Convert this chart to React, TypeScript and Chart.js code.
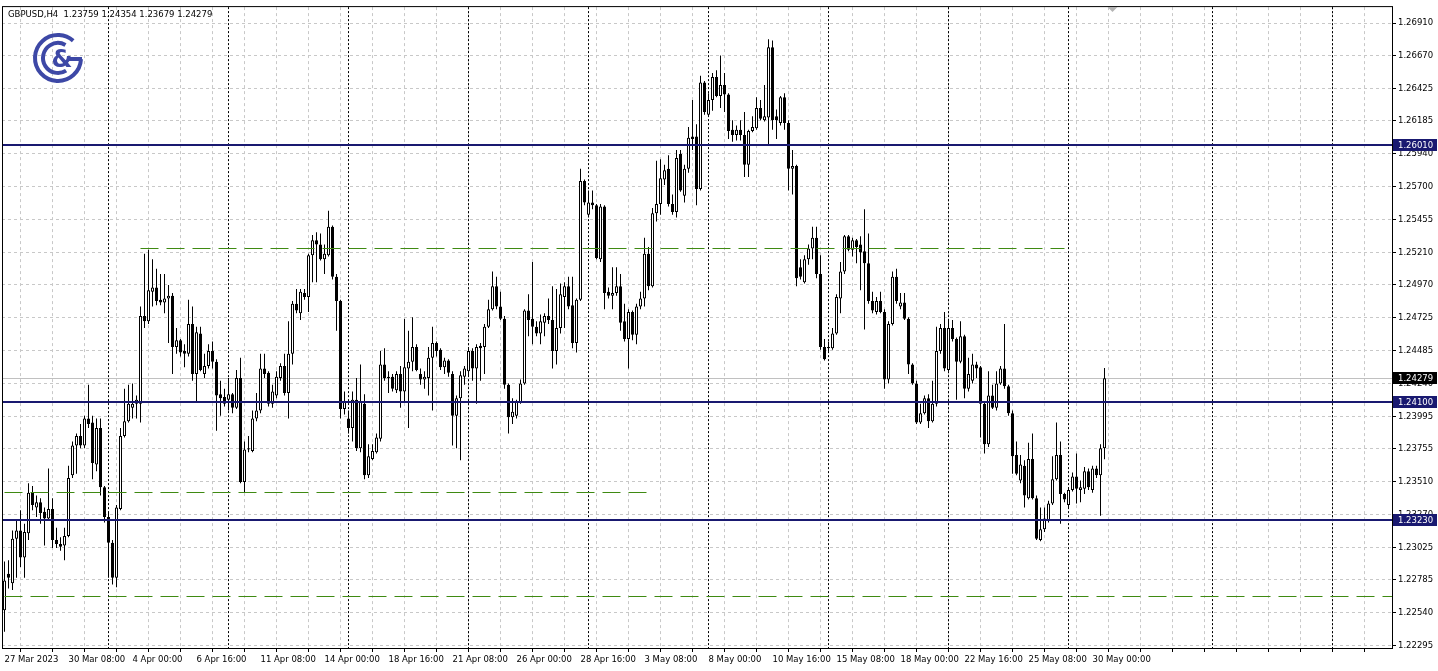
import React, { useEffect, useRef } from 'react';
import { Chart, registerables } from 'chart.js';

Chart.register(...registerables);

const SYMBOL = 'GBPUSD,H4';
const FIRST_BAR = 4;

const OPEN = [
  1.2256, 1.2283, 1.2276, 1.2309, 1.2315, 1.2295, 1.2313, 1.2343, 1.2332, 1.2336,
  1.2329, 1.2324, 1.2331, 1.2308, 1.2305, 1.2304, 1.2311, 1.2356, 1.2378, 1.2385,
  1.2378, 1.2398, 1.2395, 1.2364, 1.2391, 1.2347, 1.2325, 1.2306, 1.2280, 1.2331,
  1.2385, 1.2396, 1.2406, 1.2409, 1.2409, 1.2474, 1.2470, 1.2492, 1.2495, 1.2486,
  1.2484, 1.2487, 1.2489, 1.2451, 1.2456, 1.2448, 1.2446, 1.2468, 1.2431, 1.2461,
  1.2431, 1.2437, 1.2448, 1.2440, 1.2416, 1.2414, 1.2412, 1.2416, 1.2406, 1.2428,
  1.2351, 1.2375, 1.2374, 1.2398, 1.2404, 1.2435, 1.2432, 1.2409, 1.2415, 1.2428,
  1.2437, 1.2417, 1.2446, 1.2483, 1.2476, 1.2491, 1.2488, 1.2519, 1.2530, 1.2527,
  1.2516, 1.2519, 1.2540, 1.2503, 1.2485, 1.2405, 1.2398, 1.2391, 1.2412, 1.2376,
  1.2409, 1.2356, 1.2368, 1.2373, 1.2383, 1.2438, 1.2428, 1.2429, 1.2419, 1.2431,
  1.2418, 1.2435, 1.2440, 1.2451, 1.2431, 1.2427, 1.2428, 1.2443, 1.2454, 1.2449,
  1.2436, 1.2441, 1.2431, 1.2400, 1.2413, 1.2429, 1.2433, 1.2448, 1.2435, 1.2452,
  1.2451, 1.2466, 1.2479, 1.2496, 1.2481, 1.2472, 1.2423, 1.2399, 1.2400, 1.2410,
  1.2424, 1.2478, 1.2472, 1.2466, 1.2461, 1.2469, 1.2474, 1.2471, 1.2448, 1.2465,
  1.2488, 1.2496, 1.2482, 1.2454, 1.2486, 1.2574, 1.2549, 1.2558, 1.2556, 1.2516,
  1.2555, 1.2492, 1.2489, 1.2491, 1.2496, 1.2470, 1.2457, 1.2477, 1.2460, 1.2481,
  1.2487, 1.2520, 1.2496, 1.2550, 1.2557, 1.2575, 1.2583, 1.2557, 1.2551, 1.2594,
  1.2563, 1.2583, 1.2607, 1.2607, 1.2568, 1.2647, 1.2623, 1.2634, 1.2651, 1.2637,
  1.2645, 1.2638, 1.2612, 1.2608, 1.2612, 1.2608, 1.2586, 1.2611, 1.2613, 1.2628,
  1.2619, 1.2621, 1.2673, 1.2622, 1.2617, 1.2636, 1.2617, 1.2583, 1.2585, 1.2510,
  1.2499, 1.2516, 1.2524, 1.2532, 1.2505, 1.2451, 1.2451, 1.2450, 1.2461, 1.2487,
  1.2507, 1.2533, 1.2523, 1.2530, 1.2527, 1.2522, 1.2513, 1.2485, 1.2477, 1.2485,
  1.2477, 1.2427, 1.2468, 1.2503, 1.2481, 1.2484, 1.2472, 1.2438, 1.2424, 1.2395,
  1.2402, 1.2413, 1.2396, 1.2409, 1.2448, 1.2465, 1.2434, 1.2465, 1.2457, 1.2440,
  1.2459, 1.2420, 1.2426, 1.2438, 1.2436, 1.2409, 1.2379, 1.2415, 1.2406, 1.2424,
  1.2435, 1.2422, 1.2402, 1.2371, 1.2352, 1.2363, 1.2339, 1.2368, 1.2339, 1.2308,
  1.2316, 1.2322, 1.2335, 1.2353, 1.2371, 1.2342, 1.2334, 1.2345, 1.2355, 1.2345,
  1.2346, 1.2359, 1.2345, 1.2361, 1.2356, 1.23759,
];

const HIGH = [
  1.2292, 1.2293, 1.2315, 1.2322, 1.2330, 1.2320, 1.2350, 1.2348, 1.2341, 1.2339,
  1.2332, 1.2361, 1.2339, 1.2317, 1.2310, 1.2317, 1.2363, 1.2381, 1.2387, 1.2394,
  1.2400, 1.2423, 1.2400, 1.2398, 1.2398, 1.2348, 1.2328, 1.2308, 1.2334, 1.2391,
  1.2420, 1.2423, 1.2424, 1.2415, 1.2481, 1.2520, 1.2523, 1.2516, 1.2509, 1.2505,
  1.2505, 1.2497, 1.2491, 1.2465, 1.2457, 1.2453, 1.2486, 1.2481, 1.2466, 1.2466,
  1.2446, 1.2453, 1.2455, 1.2442, 1.2426, 1.2420, 1.2428, 1.2417, 1.2434, 1.2443,
  1.2381, 1.2385, 1.2404, 1.2417, 1.2446, 1.2446, 1.2433, 1.2423, 1.2433, 1.2439,
  1.2446, 1.2470, 1.2485, 1.2494, 1.2494, 1.2494, 1.2520, 1.2534, 1.2536, 1.2535,
  1.2527, 1.2552, 1.2541, 1.2505, 1.2486, 1.2418, 1.2404, 1.2418, 1.2428, 1.2438,
  1.2416, 1.2379, 1.2379, 1.2387, 1.2448, 1.2450, 1.2433, 1.2431, 1.2433, 1.2437,
  1.2472, 1.2463, 1.2473, 1.2453, 1.2435, 1.2433, 1.2451, 1.2466, 1.2455, 1.2450,
  1.2443, 1.2442, 1.2433, 1.2415, 1.2433, 1.2437, 1.2451, 1.2450, 1.2453, 1.2454,
  1.2468, 1.2486, 1.2507, 1.2503, 1.2492, 1.2474, 1.2424, 1.2413, 1.2412, 1.2427,
  1.2479, 1.2490, 1.2514, 1.2470, 1.2475, 1.2476, 1.2487, 1.2496, 1.2494, 1.2498,
  1.2499, 1.2503, 1.2503, 1.2487, 1.2583, 1.2575, 1.2567, 1.2567, 1.2557, 1.2557,
  1.2556, 1.2495, 1.2510, 1.2510, 1.2505, 1.2483, 1.2479, 1.2478, 1.2483, 1.2492,
  1.2532, 1.2525, 1.2554, 1.2589, 1.2590, 1.2586, 1.2593, 1.2564, 1.2597, 1.2597,
  1.2586, 1.2614, 1.2634, 1.2616, 1.2652, 1.2648, 1.2639, 1.2654, 1.2656, 1.2667,
  1.2654, 1.2639, 1.2619, 1.2615, 1.2619, 1.2625, 1.2612, 1.2622, 1.2636, 1.2634,
  1.2645, 1.2679, 1.2678, 1.2627, 1.2637, 1.2639, 1.2619, 1.2597, 1.2586, 1.2516,
  1.2519, 1.2527, 1.2540, 1.2540, 1.2519, 1.2457, 1.2455, 1.2465, 1.2490, 1.2514,
  1.2534, 1.2534, 1.2532, 1.2531, 1.2533, 1.2553, 1.2535, 1.2492, 1.2488, 1.2492,
  1.2479, 1.2470, 1.2507, 1.2509, 1.2491, 1.2491, 1.2473, 1.2439, 1.2426, 1.2409,
  1.2415, 1.2416, 1.2426, 1.2466, 1.2468, 1.2477, 1.2472, 1.2471, 1.2458, 1.2470,
  1.2460, 1.2443, 1.2446, 1.2440, 1.2437, 1.2411, 1.2433, 1.2423, 1.2433, 1.2437,
  1.2468, 1.2423, 1.2404, 1.2381, 1.2371, 1.2367, 1.2380, 1.2387, 1.2341, 1.2332,
  1.2332, 1.2337, 1.2370, 1.2395, 1.2381, 1.2343, 1.2347, 1.2358, 1.2372, 1.2352,
  1.2362, 1.2361, 1.2363, 1.2363, 1.2379, 1.24354,
];

const LOW = [
  1.2240, 1.2272, 1.2271, 1.2280, 1.2288, 1.2280, 1.2308, 1.2330, 1.2325, 1.2320,
  1.2304, 1.2322, 1.2302, 1.2302, 1.2300, 1.2293, 1.2310, 1.2354, 1.2357, 1.2376,
  1.2376, 1.2391, 1.2353, 1.2359, 1.2341, 1.2321, 1.2280, 1.2275, 1.2273, 1.2330,
  1.2384, 1.2395, 1.2398, 1.2398, 1.2395, 1.2465, 1.2468, 1.2481, 1.2482, 1.2482,
  1.2476, 1.2454, 1.2431, 1.2446, 1.2444, 1.2436, 1.2444, 1.2426, 1.2411, 1.2433,
  1.2428, 1.2435, 1.2435, 1.2389, 1.2400, 1.2407, 1.2404, 1.2402, 1.2405, 1.2350,
  1.2343, 1.2373, 1.2373, 1.2396, 1.2402, 1.2428, 1.2407, 1.2406, 1.2413, 1.2426,
  1.2415, 1.2398, 1.2438, 1.2476, 1.2471, 1.2486, 1.2477, 1.2499, 1.2499, 1.2515,
  1.2505, 1.2518, 1.2501, 1.2463, 1.2398, 1.2401, 1.2387, 1.2381, 1.2374, 1.2373,
  1.2353, 1.2354, 1.2367, 1.2372, 1.2381, 1.2426, 1.2417, 1.2418, 1.2417, 1.2406,
  1.2411, 1.2391, 1.2433, 1.2433, 1.2423, 1.2420, 1.2415, 1.2404, 1.2444, 1.2434,
  1.2431, 1.2429, 1.2378, 1.2376, 1.2367, 1.2423, 1.2429, 1.2426, 1.2409, 1.2426,
  1.2431, 1.2465, 1.2478, 1.2479, 1.2471, 1.2420, 1.2387, 1.2394, 1.2398, 1.2409,
  1.2423, 1.2459, 1.2453, 1.2459, 1.2453, 1.2459, 1.2468, 1.2435, 1.2438, 1.2461,
  1.2465, 1.2479, 1.2450, 1.2447, 1.2485, 1.2556, 1.2547, 1.2553, 1.2516, 1.2514,
  1.2479, 1.2487, 1.2479, 1.2489, 1.2463, 1.2455, 1.2435, 1.2456, 1.2453, 1.2479,
  1.2481, 1.2493, 1.2495, 1.2544, 1.2549, 1.2571, 1.2555, 1.2549, 1.2547, 1.2566,
  1.2558, 1.2580, 1.2597, 1.2556, 1.2567, 1.2623, 1.2622, 1.2626, 1.2636, 1.2628,
  1.2625, 1.2605, 1.2603, 1.2604, 1.2604, 1.2577, 1.2577, 1.2610, 1.2612, 1.2619,
  1.2618, 1.2600, 1.2612, 1.2605, 1.2615, 1.2612, 1.2567, 1.2564, 1.2496, 1.2501,
  1.2498, 1.2512, 1.2516, 1.2502, 1.2449, 1.2441, 1.2448, 1.2449, 1.2460, 1.2476,
  1.2505, 1.2522, 1.2518, 1.2513, 1.2493, 1.2464, 1.2483, 1.2476, 1.2475, 1.2476,
  1.2420, 1.2424, 1.2467, 1.2483, 1.2479, 1.2471, 1.2431, 1.2423, 1.2394, 1.2394,
  1.2401, 1.2391, 1.2395, 1.2407, 1.2446, 1.2433, 1.2433, 1.2455, 1.2412, 1.2439,
  1.2413, 1.2418, 1.2424, 1.2428, 1.2384, 1.2372, 1.2377, 1.2405, 1.2404, 1.2423,
  1.2420, 1.2400, 1.2357, 1.2356, 1.2350, 1.2332, 1.2338, 1.2338, 1.2308, 1.2307,
  1.2314, 1.2321, 1.2334, 1.2352, 1.2320, 1.2336, 1.2331, 1.2344, 1.2335, 1.2336,
  1.2342, 1.2345, 1.2343, 1.2354, 1.2326, 1.23679,
];

const CLOSE = [
  1.2278, 1.2280, 1.2309, 1.2315, 1.2295, 1.2314, 1.2343, 1.2334, 1.2336, 1.2328,
  1.2324, 1.2331, 1.2308, 1.2305, 1.2303, 1.2311, 1.2354, 1.2378, 1.2385, 1.2378,
  1.2398, 1.2394, 1.2365, 1.2391, 1.2347, 1.2325, 1.2306, 1.2280, 1.2332, 1.2385,
  1.2396, 1.2409, 1.2409, 1.2412, 1.2474, 1.2470, 1.2493, 1.2495, 1.2485, 1.2484,
  1.2487, 1.2489, 1.2451, 1.2456, 1.2447, 1.2446, 1.2468, 1.2431, 1.2462, 1.2434,
  1.2437, 1.2448, 1.2440, 1.2415, 1.2413, 1.2409, 1.2416, 1.2406, 1.2428, 1.2351,
  1.2375, 1.2376, 1.2398, 1.2404, 1.2435, 1.2431, 1.2409, 1.2418, 1.2429, 1.2437,
  1.2417, 1.2446, 1.2483, 1.2478, 1.2492, 1.2488, 1.2519, 1.2530, 1.2527, 1.2516,
  1.2520, 1.2540, 1.2503, 1.2485, 1.2405, 1.2411, 1.2391, 1.2412, 1.2376, 1.2411,
  1.2356, 1.2370, 1.2374, 1.2384, 1.2438, 1.2428, 1.2429, 1.2420, 1.2431, 1.2418,
  1.2436, 1.2440, 1.2451, 1.2434, 1.2427, 1.2429, 1.2443, 1.2454, 1.2448, 1.2436,
  1.2441, 1.2432, 1.2400, 1.2413, 1.2430, 1.2435, 1.2448, 1.2435, 1.2451, 1.2450,
  1.2466, 1.2479, 1.2496, 1.2481, 1.2472, 1.2423, 1.2399, 1.2403, 1.2411, 1.2424,
  1.2478, 1.2471, 1.2466, 1.2461, 1.2470, 1.2474, 1.2471, 1.2448, 1.2465, 1.2490,
  1.2496, 1.2481, 1.2454, 1.2486, 1.2574, 1.2558, 1.2558, 1.2556, 1.2517, 1.2555,
  1.2491, 1.2489, 1.2491, 1.2496, 1.2469, 1.2457, 1.2477, 1.2460, 1.2481, 1.2487,
  1.2520, 1.2496, 1.2550, 1.2557, 1.2576, 1.2582, 1.2557, 1.2551, 1.2591, 1.2567,
  1.2583, 1.2606, 1.2605, 1.2568, 1.2647, 1.2625, 1.2634, 1.2651, 1.2637, 1.2645,
  1.2638, 1.2611, 1.2608, 1.2612, 1.2608, 1.2586, 1.2611, 1.2614, 1.2628, 1.2620,
  1.2622, 1.2673, 1.2619, 1.2619, 1.2636, 1.2617, 1.2583, 1.2585, 1.2502, 1.2503,
  1.2516, 1.2524, 1.2532, 1.2505, 1.2451, 1.2442, 1.2450, 1.2461, 1.2488, 1.2507,
  1.2533, 1.2523, 1.2530, 1.2525, 1.2521, 1.2513, 1.2485, 1.2478, 1.2485, 1.2477,
  1.2427, 1.2468, 1.2503, 1.2485, 1.2484, 1.2472, 1.2438, 1.2424, 1.2395, 1.2402,
  1.2413, 1.2396, 1.2409, 1.2448, 1.2465, 1.2435, 1.2465, 1.2457, 1.2440, 1.2459,
  1.2420, 1.2431, 1.2438, 1.2435, 1.2409, 1.2379, 1.2415, 1.2406, 1.2424, 1.2435,
  1.2422, 1.2402, 1.2370, 1.2357, 1.2364, 1.2341, 1.2368, 1.2339, 1.2309, 1.2316,
  1.2324, 1.2335, 1.2353, 1.2371, 1.2342, 1.2338, 1.2345, 1.2355, 1.2346, 1.2347,
  1.2359, 1.2347, 1.2361, 1.2356, 1.2376, 1.24279,
];

// time labels sit on bars FIRST_LABEL_BAR + k * LABEL_STEP
const TIME_LABELS = [
  '27 Mar 2023', '30 Mar 08:00', '4 Apr 00:00', '6 Apr 16:00', '11 Apr 08:00', '14 Apr 00:00',
  '18 Apr 16:00', '21 Apr 08:00', '26 Apr 00:00', '28 Apr 16:00', '3 May 08:00', '8 May 00:00',
  '10 May 16:00', '15 May 08:00', '18 May 00:00', '22 May 16:00', '25 May 08:00', '30 May 00:00',
];
const FIRST_LABEL_BAR = 4;
const LABEL_STEP = 16;
const GRID_STEP = 8;

const PRICE_TICKS = [
  1.2691, 1.2667, 1.26425, 1.26185, 1.2594, 1.257, 1.25455, 1.2521, 1.2497, 1.24725,
  1.24485, 1.2424, 1.23995, 1.23755, 1.2351, 1.2327, 1.23025, 1.22785, 1.2254, 1.22295,
];

const LEVELS = [1.2601, 1.241, 1.2323];
const LAST_PRICE = 1.24279;
const DASHED_LEVELS = [
  { price: 1.25244, from: 38, to: 269 },
  { price: 1.23439, from: 4, to: 165 },
  { price: 1.22665, from: 4, to: 351 },
];
const WEEK_STARTS = [30, 60, 90, 120, 150, 180, 210, 240, 270, 306, 336];
const SHIFT_BAR = 281;

const X_MIN = 3.375;
const X_MAX = 350.875;
const Y_MIN = 1.2228;
const Y_MAX = 1.27028;

const FONT = 'DejaVu Sans';
const NAVY = '#191970';

const overlayPlugin = {
  id: 'mtOverlay',
  beforeDatasetsDraw(chart: any) {
    const { ctx, chartArea: a, scales } = chart;
    const xs = scales.x;
    const ys = scales.y;
    ctx.save();
    ctx.strokeStyle = '#000';
    ctx.lineWidth = 1;
    ctx.setLineDash([2, 2]);
    WEEK_STARTS.forEach((w) => {
      const px = xs.getPixelForValue(w);
      ctx.beginPath();
      ctx.moveTo(px, a.top);
      ctx.lineTo(px, a.bottom);
      ctx.stroke();
    });
    ctx.setLineDash([]);
    ctx.strokeStyle = '#c0c0c0';
    const py = Math.round(ys.getPixelForValue(LAST_PRICE)) + 0.5;
    ctx.beginPath();
    ctx.moveTo(a.left, py);
    ctx.lineTo(a.right, py);
    ctx.stroke();
    ctx.restore();
  },
  afterDatasetsDraw(chart: any) {
    const { ctx, chartArea: a, scales } = chart;
    const xs = scales.x;
    const ys = scales.y;
    ctx.save();
    ctx.beginPath();
    ctx.rect(a.left, a.top, a.right - a.left, a.bottom - a.top);
    ctx.clip();
    ctx.lineWidth = 1;
    ctx.setLineDash([18, 8]);
    ctx.strokeStyle = '#3f8a12';
    DASHED_LEVELS.forEach((d) => {
      const py = Math.round(ys.getPixelForValue(d.price)) + 0.5;
      ctx.beginPath();
      ctx.moveTo(xs.getPixelForValue(d.from), py);
      ctx.lineTo(xs.getPixelForValue(d.to), py);
      ctx.stroke();
    });
    ctx.setLineDash([]);
    ctx.fillStyle = NAVY;
    LEVELS.forEach((p) => {
      const py = Math.round(ys.getPixelForValue(p));
      ctx.fillRect(a.left, py - 1, a.right - a.left, 2);
    });
    ctx.restore();
  },
  afterDraw(chart: any) {
    const { ctx, chartArea: a, scales } = chart;
    const xs = scales.x;
    const ys = scales.y;
    ctx.save();
    // frame
    ctx.strokeStyle = '#000';
    ctx.lineWidth = 1;
    ctx.strokeRect(a.left + 0.5, a.top - 0.5, a.right - a.left, a.bottom - a.top + 1);
    // price boxes
    ctx.font = `8.5px "${FONT}"`;
    ctx.textBaseline = 'middle';
    ctx.textAlign = 'left';
    const box = (p: number, bg: string) => {
      const py = Math.round(ys.getPixelForValue(p));
      ctx.fillStyle = bg;
      ctx.fillRect(a.right + 1, py - 6, 44, 12);
      ctx.fillStyle = '#fff';
      ctx.fillText(p.toFixed(5), a.right + 6, py + 0.5);
    };
    LEVELS.forEach((p) => box(p, NAVY));
    box(LAST_PRICE, '#000');
    // header
    ctx.fillStyle = '#000';
    ctx.textBaseline = 'alphabetic';
    const n = OPEN.length - 1;
    ctx.fillText(
      `${SYMBOL}  ${OPEN[n].toFixed(5)} ${HIGH[n].toFixed(5)} ${LOW[n].toFixed(5)} ${CLOSE[n].toFixed(5)}`,
      8, 17,
    );
    // shift marker
    const sx = xs.getPixelForValue(SHIFT_BAR);
    ctx.fillStyle = '#b4b4b4';
    ctx.beginPath();
    ctx.moveTo(sx - 5, a.top);
    ctx.lineTo(sx + 5, a.top);
    ctx.lineTo(sx, a.top + 5);
    ctx.closePath();
    ctx.fill();
    // logo
    const c = '#3d48a6';
    ctx.strokeStyle = c;
    ctx.lineWidth = 4;
    ctx.beginPath();
    ctx.arc(58, 58, 23, 0.05, Math.PI * 2 - 0.85);
    ctx.stroke();
    ctx.beginPath();
    ctx.moveTo(82, 59);
    ctx.lineTo(67, 59);
    ctx.stroke();
    ctx.beginPath();
    ctx.arc(58, 58, 15, 1.0, Math.PI * 2 - 1.05);
    ctx.stroke();
    ctx.fillStyle = c;
    ctx.font = `bold 24px "${FONT}"`;
    ctx.textAlign = 'center';
    ctx.textBaseline = 'middle';
    ctx.fillText('&', 62, 61);
    ctx.restore();
  },
};

export default function App() {
  const ref = useRef<HTMLCanvasElement>(null);
  useEffect(() => {
    document.body.style.margin = '0';
    const canvas = ref.current as HTMLCanvasElement;
    const bodies = OPEN.map((o, j) => ({ x: FIRST_BAR + j, y: [o, CLOSE[j]] }));
    const wicks = LOW.map((l, j) => ({ x: FIRST_BAR + j, y: [l, HIGH[j]] }));
    const bodyColors = OPEN.map((o, j) => (CLOSE[j] >= o ? '#ffffff' : '#000000'));
    const font = { family: FONT, size: 8.5 };
    const chart = new Chart(canvas, {
      type: 'bar',
      data: {
        datasets: [
          {
            label: 'body',
            data: bodies as any,
            backgroundColor: bodyColors,
            borderColor: '#000',
            borderWidth: 1,
            borderSkipped: false,
            barThickness: 3,
            grouped: false,
            minBarLength: 1,
            inflateAmount: 0,
            order: 1,
          } as any,
          {
            label: 'wick',
            data: wicks as any,
            backgroundColor: '#000',
            borderWidth: 0,
            barThickness: 1,
            grouped: false,
            inflateAmount: 0,
            order: 2,
          } as any,
        ],
      },
      options: {
        responsive: false,
        animation: false,
        devicePixelRatio: 1,
        layout: { padding: { left: 2, top: 4, right: 0, bottom: 0 } },
        plugins: { legend: { display: false }, tooltip: { enabled: false } },
        scales: {
          x: {
            type: 'linear',
            min: X_MIN,
            max: X_MAX,
            offset: false,
            afterBuildTicks: (s: any) => {
              const t = [];
              for (let v = FIRST_LABEL_BAR; v <= X_MAX; v += GRID_STEP) t.push({ value: v });
              s.ticks = t;
            },
            afterFit: (s: any) => {
              s.height = 23;
            },
            ticks: {
              autoSkip: false,
              maxRotation: 0,
              minRotation: 0,
              align: 'start',
              padding: 3,
              color: '#000',
              font,
              callback: (v: any) => {
                const k = (Number(v) - FIRST_LABEL_BAR) / LABEL_STEP;
                return Number.isInteger(k) && k < TIME_LABELS.length ? TIME_LABELS[k] : '';
              },
            },
            grid: { color: '#c8c8c8', lineWidth: 1, drawTicks: true, tickLength: 4, tickColor: '#000' },
            border: { display: false, dash: [3, 3] },
          } as any,
          y: {
            type: 'linear',
            position: 'right',
            min: Y_MIN,
            max: Y_MAX,
            afterBuildTicks: (s: any) => {
              s.ticks = PRICE_TICKS.map((v) => ({ value: v }));
            },
            afterFit: (s: any) => {
              s.width = 46;
            },
            ticks: {
              autoSkip: false,
              color: '#000',
              font,
              padding: 2,
              callback: (v: any) => Number(v).toFixed(5),
            },
            grid: { color: '#c8c8c8', lineWidth: 1, tickLength: 4, tickColor: '#000' },
            border: { display: false, dash: [3, 3] },
          } as any,
        },
      },
      plugins: [overlayPlugin],
    });
    return () => chart.destroy();
  }, []);
  return (
    <div style={{ width: 1438, height: 671, background: '#fff' }}>
      <canvas ref={ref} width={1438} height={671} style={{ display: 'block' }} />
    </div>
  );
}
